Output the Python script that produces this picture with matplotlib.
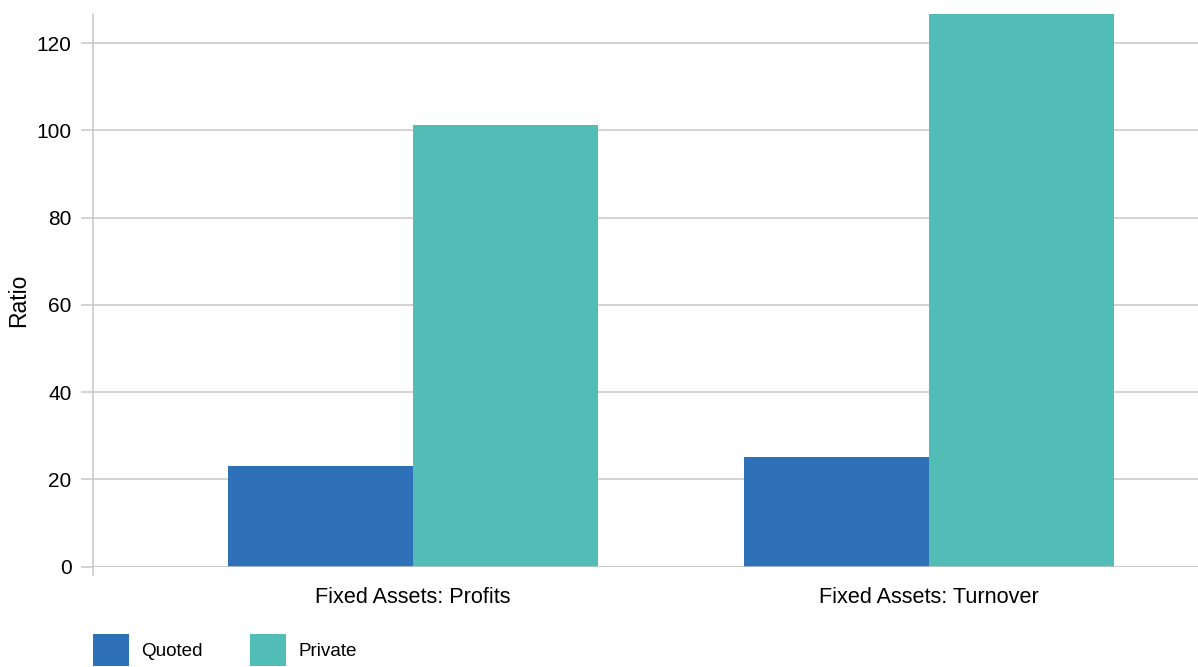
import numpy as np
import matplotlib
matplotlib.use('Agg')
from matplotlib import pyplot as plt
from matplotlib.lines import Line2D

plt.rcParams['font.family'] = ['Liberation Sans', 'DejaVu Sans']

categories = ['Fixed Assets: Profits', 'Fixed Assets: Turnover']
quoted = [23.05, 25.1]
private = [101.3, 126.7]
yticks = [0, 20, 40, 60, 80, 100, 120]

blue = '#2E71B8'
teal = '#52BDB6'
grid = '#C8C8C8'

fig = plt.figure(figsize=(11.98, 6.67), dpi=100)
ax = fig.add_axes([92.5 / 1198, 100.5 / 667, 1 - 92.5 / 1198, 552.5 / 667])

x = np.arange(len(categories))
w = 0.3585
ax.bar(x - w / 2, quoted, width=w, color=blue, label='Quoted', zorder=3)
ax.bar(x + w / 2, private, width=w, color=teal, label='Private', zorder=3)

ax.set_xlim(-0.621, 1.521)
ax.set_ylim(0, max(private))
ax.set_yticks(yticks)
ax.set_xticks(x)
ax.set_xticklabels(categories)

ax.grid(axis='y', color=grid, linewidth=1.1, zorder=0)
ax.tick_params(axis='y', length=9, width=1.1, color=grid, pad=6, labelsize=15)
ax.tick_params(axis='x', length=0, pad=15, labelsize=15.6)
for s in ['top', 'right', 'bottom']:
    ax.spines[s].set_visible(False)
ax.spines['left'].set_color(grid)
ax.spines['left'].set_linewidth(1.1)
ax.axhline(0, color=grid, linewidth=1.1, zorder=4)
# spine continues a little below zero
ax.add_line(Line2D([0, 0], [0, -0.015], transform=ax.transAxes, color=grid,
                   linewidth=1.1, clip_on=False))

ax.set_ylabel('Ratio', fontsize=16.5)
ax.yaxis.set_label_coords(-0.056, 0.482)

fig.legend(loc='upper left', bbox_to_anchor=(93 / 1198, 1 - 634 / 667),
           ncol=2, frameon=False, fontsize=13.6, handlelength=1.9,
           handleheight=2.22, handletextpad=0.67, columnspacing=2.49,
           borderpad=0, borderaxespad=0)

fig.savefig('out.png', dpi=100)
